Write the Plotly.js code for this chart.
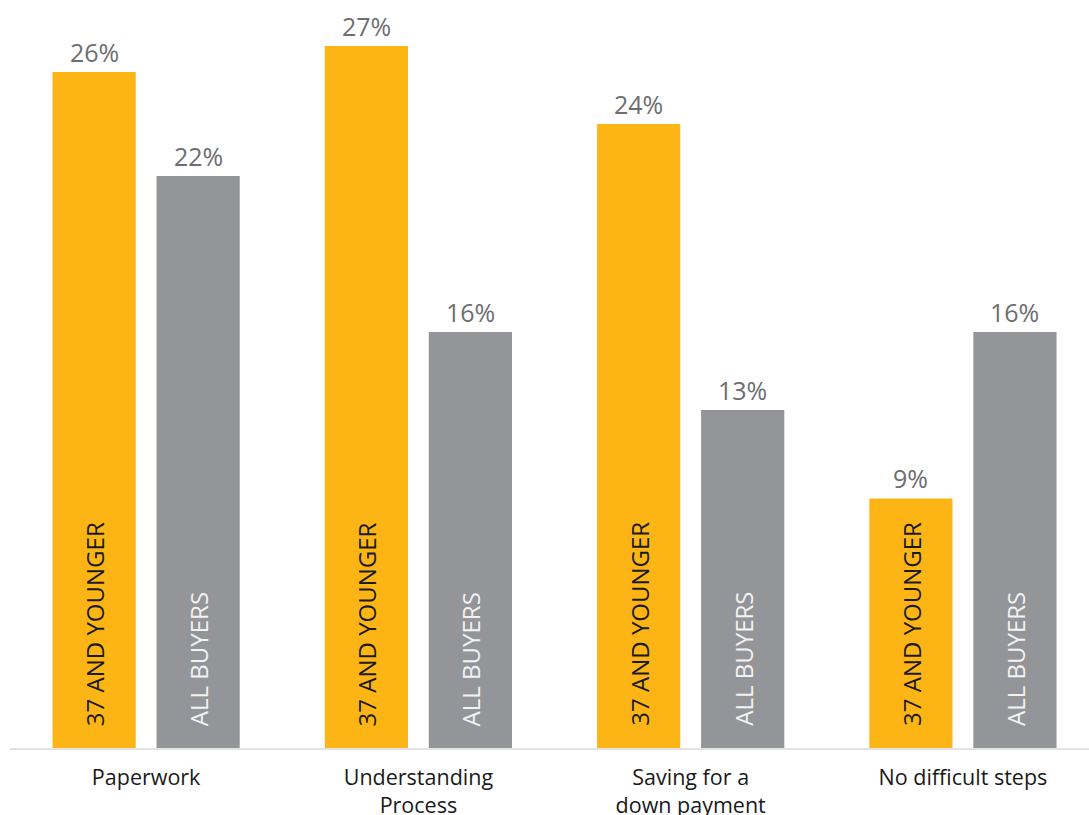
<!DOCTYPE html>
<html>
<head>
<meta charset="utf-8">
<script src="https://cdn.plot.ly/plotly-3.0.1.min.js"></script>
<style>html,body{margin:0;padding:0;background:#fff;}#chart{width:1089px;height:815px;}</style>
</head>
<body>
<div id="chart"></div>
<script>
const categories = ["Paperwork", "Understanding<br>Process", "Saving for a<br>down payment", "No difficult steps"];
const seriesNames = ["37 AND YOUNGER", "ALL BUYERS"];
const young = [26, 27, 24, 9.6];
const allBuyers = [22, 16, 13, 16];
const youngLabels = ["26%", "27%", "24%", "9%"];
const allBuyersLabels = ["22%", "16%", "13%", "16%"];

const gold = "#FDB515";
const grey = "#939598";
const FONT = "Open Sans, Noto Sans, sans-serif";

const traces = [
  {type: "bar", name: seriesNames[0], x: categories, y: young, marker: {color: gold}, hoverinfo: "none"},
  {type: "bar", name: seriesNames[1], x: categories, y: allBuyers, marker: {color: grey}, hoverinfo: "none"}
];

const annotations = [];
const series = [young, allBuyers];
const labels = [youngLabels, allBuyersLabels];
const shifts = [-52, 52];
const insideColors = ["#1a1a1a", "#f2f2f2"];
series.forEach((vals, s) => {
  vals.forEach((v, i) => {
    annotations.push({
      x: categories[i], y: v, xref: "x", yref: "y",
      text: labels[s][i], showarrow: false,
      xshift: shifts[s], yanchor: "bottom", yshift: 1,
      font: {family: FONT, size: 25, color: "#6d6e71"}
    });
    annotations.push({
      x: categories[i], y: 0, xref: "x", yref: "y",
      text: seriesNames[s], showarrow: false, textangle: -90,
      xshift: shifts[s], yanchor: "bottom", yshift: 20,
      font: {family: FONT, size: 24, color: insideColors[s]}
    });
  });
});

const layout = {
  width: 1089, height: 815,
  margin: {l: 10, r: 0, t: 0, b: 67},
  paper_bgcolor: "#fff", plot_bgcolor: "#fff",
  showlegend: false,
  barmode: "group", bargap: 0.236, bargroupgap: 0.2,
  font: {family: FONT},
  xaxis: {
    range: [-0.5, 3.463], showgrid: false, zeroline: false,
    showline: true, linecolor: "#e3e3e3", linewidth: 2,
    ticks: "", ticklabelstandoff: 9,
    tickfont: {family: FONT, size: 21.5, color: "#1a1a1a"}
  },
  yaxis: {
    range: [0, 28.77], visible: false, showgrid: false, zeroline: false
  },
  annotations: annotations
};

Plotly.newPlot("chart", traces, layout, {displayModeBar: false, staticPlot: true});
</script>
</body>
</html>
